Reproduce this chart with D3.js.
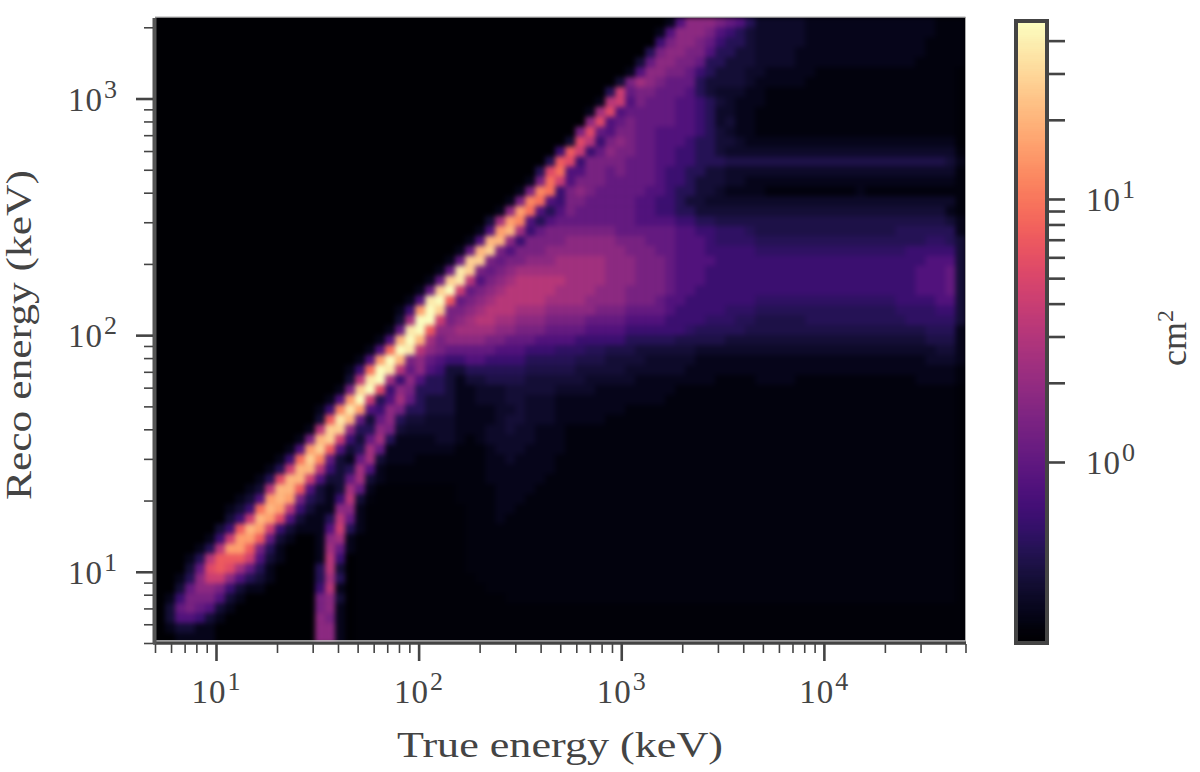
<!DOCTYPE html>
<html>
<head>
<meta charset="utf-8">
<script src="https://cdn.jsdelivr.net/npm/d3@7"></script>
<style>
html,body{margin:0;padding:0;background:#fff;}
svg{display:block;}
text{font-family:"Liberation Serif",serif;fill:#444;}
</style>
</head>
<body>
<div id="chart"></div>
<script>
/* axis limits, keV and cm2 */
var trueRange = [5, 50000];
var recoRange = [5, 2200];
var areaRange = [0.205, 47.5];

var trueMajor = [10, 100, 1000, 10000];
var recoMajor = [10, 100, 1000];
var trueMinor = [5,6,7,8,9,20,30,40,50,60,70,80,90,200,300,400,500,600,700,800,900,2000,3000,4000,5000,6000,7000,8000,9000,20000,30000,40000,50000];
var recoMinor = [5,6,7,8,9,20,30,40,50,60,70,80,90,200,300,400,500,600,700,800,900,2000];
var barMajor = [1, 10];
var barMinor = [2,3,4,5,6,7,8,9,20,30,40];

/* response, top row first, one char per bin.
   0..k is the level out of 20 on the colour bar, the dark end also has
   , . : ; ~ for 0.25 0.5 1.5 2.5 3.5 */
var darkLevels = {",": 0.25, ".": 0.5, ":": 1.5, ";": 2.5, "~": 3.5};
var levelRows = [
"0000000000 0000000000 0000000000 0000000000 0000000000 0158887653 :::::11111 11111111.. .",
"0000000000 0000000000 0000000000 0000000000 0000000000 1588875432 :::::11111 11111111.. .",
"0000000000 0000000000 0000000000 0000000000 0000000000 4788764332 :::::11111 1111111... .",
"0000000000 0000000000 0000000000 0000000000 0000000003 7887753322 ::::111111 1111111... .",
"0000000000 0000000000 0000000000 0000000000 0000000026 8877633222 ::::111111 111111.... .",
"0000000000 0000000000 0000000000 0000000000 0000000158 877643222: :11111.... .......... ,",
"0000000000 0000000000 0000000000 0000000000 0000002798 766632222: 11111..... .......... ,",
"0000000000 0000000000 0000000000 0000000000 000003b677 666532:::1 1......... .......... ,",
"0000000000 0000000000 0000000000 0000000000 00001ab576 6655432:11 1......... .......... ,",
"0000000000 0000000000 0000000000 0000000000 00019c5666 665543::11 .......... .......... ,",
"0000000000 0000000000 0000000000 0000000000 0008c56766 665543:211 .......... .......... ,",
"0000000000 0000000000 0000000000 0000000000 007c657766 5555432:11 .......... .......... ,",
"0000000000 0000000000 0000000000 0000000000 02ca478766 55543322:1 1111111111 1111111111 ,",
"0000000000 0000000000 0000000000 0000000000 4db4687766 5544332::: :::::::::: :::::::::: .",
"0000000000 0000000000 0000000000 0000000003 dc47777666 5544333;;; ;;;;;;;;;; ;;;;;;;;;2 1",
"0000000000 0000000000 0000000000 000000003c e557767666 5443322::: :::::::::: :::::::::: .",
"0000000000 0000000000 0000000000 000000017e b577766666 5443222::1 1111111111 1111111111 .",
"0000000000 0000000000 0000000000 00000017fe 4787666665 543322:111 1......... 1......... .",
"0000000000 0000000000 0000000000 0000017fe5 4776666655 44322::::: :::::::::: :::::::::: .",
"0000000000 0000000000 0000000000 000018ge53 5766666655 4433222222 2222222222 2222222221 .",
"0000000000 0000000000 0000000000 00029gf535 6666666655 554433;;;; ;;;;;;;;;; ;;;;;;;;;2 1",
"0000000000 0000000000 0000000000 0015gh9467 7777776666 665544~~~3 ;;;;;;;;;; ;;;;333333 1",
"0000000000 0000000000 0000000000 015hh84777 7888887776 665554~~~~ 3333333333 3333333~~3 2",
"0000000000 0000000000 0000000000 16hi757778 8888888777 6655544444 ~~~~~~~~~~ ~~~~~44444 2",
"0000000000 0000000000 0000000001 6ii7677888 9999988877 7655554444 4444444444 4444444555 2",
"0000000000 0000000000 0000000016 ji76789999 9999988877 7655544444 4444444444 4444445556 2",
"0000000000 0000000000 000000016i ja5789aaaa a999988877 7655544444 4444444444 4444445556 2",
"0000000000 0000000000 00000016ik b6789aaaaa 9999888777 7655444444 4444444444 4444445556 2",
"0000000000 0000000000 0000015jkd 6789aaaaa9 9998888777 6554444444 ~~~~~~~~~~ ~~~~444455 2",
"0000000000 0000000000 000014gki7 789aaa9998 8888777666 6544444~~~ 3333333333 3333~~~~44 2",
"0000000000 0000000000 000029kkb7 89aa998887 7776666555 54444~~~33 ;;;;;33333 33333~~~~~ 2",
"0000000000 0000000000 00016jkd88 9999887776 6665555444 444~33333; ;;;;;;;;;; ;;;;;;;333 1",
"0000000000 0000000000 0015hkh978 8887766655 5544444333 33;;;;;222 2222222222 2222222;;; 1",
"0000000000 0000000000 015ekja876 6666555444 ~~~33;;;22 2222:::::: :::::::::: ::::::::22 1",
"0000000000 0000000000 15gkh78654 4554444333 33;;;2222: ::::111111 1111111111 1111111::: 1",
"0000000000 0000000001 4ekja68542 2333333;;; ;;22222::: :::1111111 1111111111 1111111111 .",
"0000000000 0000000002 ajk9485332 122;;;;222 222:::::11 111111.... 1111...... ......1111 .",
"0000000000 0000000017 ikc4873332 11:::22222 ::::111111 11........ .......... .......... ,",
"0000000000 000000015g kb35963222 11:::22::: 1111111111 1......... .......... .......... ,",
"0000000000 00000014fj g548733222 1111::2::: 1111111... .......... .......... .......... ,",
"0000000000 0000002djh 6268322::: 1111:22::: 11111..... .......... .......... .......... ,",
"0000000000 000001aii8 33872::::: 111::2::11 1......... .......... .......... .......... ,",
"0000000000 000017hib4 26931111:: 1.1:::::11 1......... .......... .......... .......... ,",
"0000000000 00015gid52 3961111111 ...1:::111 1......... .......... .......... .......... ,",
"0000000000 0014eif621 692111.... ...11:1111 .......... .......... .......... .......... ,",
"0000000000 013bhha423 951....... ...1111111 .......... .......... .......... .......... ,",
"0000000000 13chhb5226 921....... ...111111. .......... .......... .......... .......... ,",
"0000000001 2ahhd52129 61,,,,,,,, ....1111.. .......... .......... .......... .......... ,",
"0000000012 5ghg73214a 2.,,,,,,,, ....111... .......... .......... .......... .......... ,",
"0000000124 ehga421188 1,,,,,,,,, ,...11.... .......... .......... .......... .......... ,",
"000000024b hgc52113a6 1,,,,,,,,, ,...1..... .......... .......... .......... .......... ,",
"00000024dh gb421115b3 1,,,,,,,,, ,......... .......... .......... .......... .......... ,",
"0000014bgg d621001891 ,,,,,,,,,, ,......... .......... .......... .......... .......... ,",
"000013aggd 7310001961 ,,,,,,,,,, ,......... .......... .......... .......... .......... ,",
"00013adddb 5210001a40 ,,,,,,,,,, ,......... .......... .......... .......... .......... ,",
"00026cdc96 3100003a20 ,,,,,,,,,, ,......... .......... .......... .......... .......... ,",
"00138bb853 2100003930 ,,,,,,,,,, ,,........ .......... .......... .......... .......... ,",
"0026887421 1000004a10 ,,,,,,,,,, ,,,....... .......... .......... .......... .......... ,",
"0147775210 0000007820 ,,,,,,,,,, ,,,,,..... .......... .......... .......... .......... ,",
"0267652100 0000007810 ,,,,,,,,,, ,,,,,,,,,, ,,,,,,,,,, ,,,,,,,,,, ,,,,,,,,,, ,,,,,,,,,, ,",
"0255421000 0000008710 ,,,,,,,,,, ,,,,,,,,,, ,,,,,,,,,, ,,,,,,,,,, ,,,,,,,,,, ,,,,,,,,,, ,",
"0122110000 0000008810 ,,,,,,,,,, ,,,,,,,,,, ,,,,,,,,,, ,,,,,,,,,, ,,,,,,,,,, ,,,,,,,,,, ,",
"0011110000 0000008810 ,,,,,,,,,, ,,,,,,,,,, ,,,,,,,,,, ,,,,,,,,,, ,,,,,,,,,, ,,,,,,,,,, ,"
];

var area = [155, 965.5, 643, 17.5]; /* left,right,bottom,top */

var svg = d3.select("#chart").append("svg").attr("width", 1200).attr("height", 772);

var x = d3.scaleLog().domain(trueRange).range([area[0], area[1]]);
var y = d3.scaleLog().domain(recoRange).range([area[2], area[3]]);
var barY = d3.scaleLog().domain(areaRange).range([643, 21]);
var color = d3.scaleSequentialLog(d3.interpolateMagma).domain(areaRange);

var rows = levelRows.map(function(s){
	return s.replace(/ /g, "").split("").map(function(c){
		return c in darkLevels ? darkLevels[c] : parseInt(c, 36);
	});
});
var nRows = rows.length, nCols = rows[0].length;

function edge(range, i, n){ return range[0] * Math.pow(range[1] / range[0], i / n); }
function levelValue(l){ return areaRange[0] * Math.pow(areaRange[1] / areaRange[0], l / 20); }

var cells = [];
rows.forEach(function(row, r){
	row.forEach(function(l, c){
		cells.push({
			x0: edge(trueRange, c, nCols), x1: edge(trueRange, c + 1, nCols),
			y0: edge(recoRange, nRows - r - 1, nRows), y1: edge(recoRange, nRows - r, nRows),
			value: levelValue(l)
		});
	});
});

var defs = svg.append("defs");
defs.append("clipPath").attr("id", "plot-clip").append("rect")
	.attr("x", area[0]).attr("y", area[3]).attr("width", area[1] - area[0]).attr("height", area[2] - area[3]);
var blur = defs.append("filter").attr("id", "soft").attr("filterUnits", "userSpaceOnUse")
	.attr("x", 100).attr("y", 0).attr("width", 900).attr("height", 700)
	.attr("color-interpolation-filters", "sRGB");
blur.append("feGaussianBlur").attr("stdDeviation", 2.6);

svg.append("rect").attr("x", area[0]).attr("y", area[3]).attr("width", area[1] - area[0]).attr("height", area[2] - area[3]).attr("fill", "#000004");

svg.append("g").attr("clip-path", "url(#plot-clip)")
	.append("g").attr("filter", "url(#soft)")
	.selectAll("rect").data(cells).enter().append("rect")
	.attr("x", function(d){ return x(d.x0); })
	.attr("width", function(d){ return x(d.x1) - x(d.x0) + 0.6; })
	.attr("y", function(d){ return y(d.y1); })
	.attr("height", function(d){ return y(d.y0) - y(d.y1) + 0.6; })
	.attr("fill", function(d){ return color(d.value); });

/* thin frame top and right, then the heavy left and bottom spines */
svg.append("path").attr("d", "M155,17H965.5V641").attr("fill", "none").attr("stroke", "#aaa").attr("stroke-width", 1);
svg.append("line").attr("x1", 155).attr("x2", 965.5).attr("y1", 641).attr("y2", 641).attr("stroke", "#ccc").attr("stroke-width", 1.5);
svg.append("line").attr("x1", 153).attr("x2", 966).attr("y1", 643.2).attr("y2", 643.2).attr("stroke", "#444").attr("stroke-width", 3);
svg.append("line").attr("x1", 154.5).attr("x2", 154.5).attr("y1", 18).attr("y2", 644).attr("stroke", "#555").attr("stroke-width", 4);

function styleAxis(g){
	g.select(".domain").remove();
	g.selectAll("line").attr("stroke", "#444");
}
function power(sel, exp){
	sel.text(null);
	sel.append("tspan").style("font-size", "33px").style("letter-spacing", "1px").text("10");
	sel.append("tspan").attr("dy", -13).attr("dx", 1).style("font-size", "26px").text(exp);
}

/* x ticks */
svg.append("g").attr("transform", "translate(0,644)")
	.call(d3.axisBottom(x).tickValues(trueMinor).tickSize(9).tickFormat(""))
	.call(styleAxis).selectAll("line").attr("stroke-width", 1.6);
var xMajor = svg.append("g").attr("transform", "translate(0,644)")
	.call(d3.axisBottom(x).tickValues(trueMajor).tickSize(17).tickFormat(""))
	.call(styleAxis);
xMajor.selectAll("line").attr("stroke-width", 2.6);
xMajor.selectAll("text").remove();
trueMajor.forEach(function(v){
	svg.append("text").attr("x", x(v)).attr("y", 703).attr("text-anchor", "middle")
		.call(power, Math.log10(v));
});

/* y ticks */
svg.append("g").attr("transform", "translate(153,0)")
	.call(d3.axisLeft(y).tickValues(recoMinor).tickSize(9).tickFormat(""))
	.call(styleAxis).selectAll("line").attr("stroke-width", 1.6);
var yMajor = svg.append("g").attr("transform", "translate(153,0)")
	.call(d3.axisLeft(y).tickValues(recoMajor).tickSize(17).tickFormat(""))
	.call(styleAxis);
yMajor.selectAll("line").attr("stroke-width", 2.6);
yMajor.selectAll("text").remove();
recoMajor.forEach(function(v){
	svg.append("text").attr("x", 117).attr("y", y(v) + 12).attr("text-anchor", "end")
		.call(power, Math.log10(v));
});

/* colour bar */
var barSteps = d3.range(0, 311);
svg.append("g").selectAll("rect").data(barSteps).enter().append("rect")
	.attr("x", 1016).attr("width", 31)
	.attr("y", function(d){ return 21 + d * 2; })
	.attr("height", 2.6)
	.attr("fill", function(d){ return d3.interpolateMagma(1 - d / 310); });
svg.append("rect").attr("x", 1016).attr("y", 21).attr("width", 31).attr("height", 622)
	.attr("fill", "none").attr("stroke", "#444").attr("stroke-width", 4);
var barAxis = svg.append("g").attr("transform", "translate(1049,0)")
	.call(d3.axisRight(barY).tickValues(barMajor.concat(barMinor)).tickSize(16).tickFormat(""))
	.call(styleAxis);
barAxis.selectAll("line").attr("stroke-width", 2.6);
barAxis.selectAll("text").remove();
barMajor.forEach(function(v){
	svg.append("text").attr("x", 1086).attr("y", barY(v) + 12)
		.call(power, Math.log10(v));
});

/* titles */
svg.append("text").attr("x", 560).attr("y", 757).attr("text-anchor", "middle")
	.attr("textLength", 326).attr("lengthAdjust", "spacingAndGlyphs")
	.style("font-size", "36px").text("True energy (keV)");
svg.append("text").attr("transform", "translate(31,335) rotate(-90)").attr("text-anchor", "middle")
	.attr("textLength", 330).attr("lengthAdjust", "spacingAndGlyphs")
	.style("font-size", "36px").text("Reco energy (keV)");
var cm = svg.append("text").attr("transform", "translate(1186,338) rotate(-90)").attr("text-anchor", "middle");
cm.append("tspan").style("font-size", "36px").text("cm");
cm.append("tspan").attr("dy", -13).style("font-size", "24px").text("2");
</script>
</body>
</html>
